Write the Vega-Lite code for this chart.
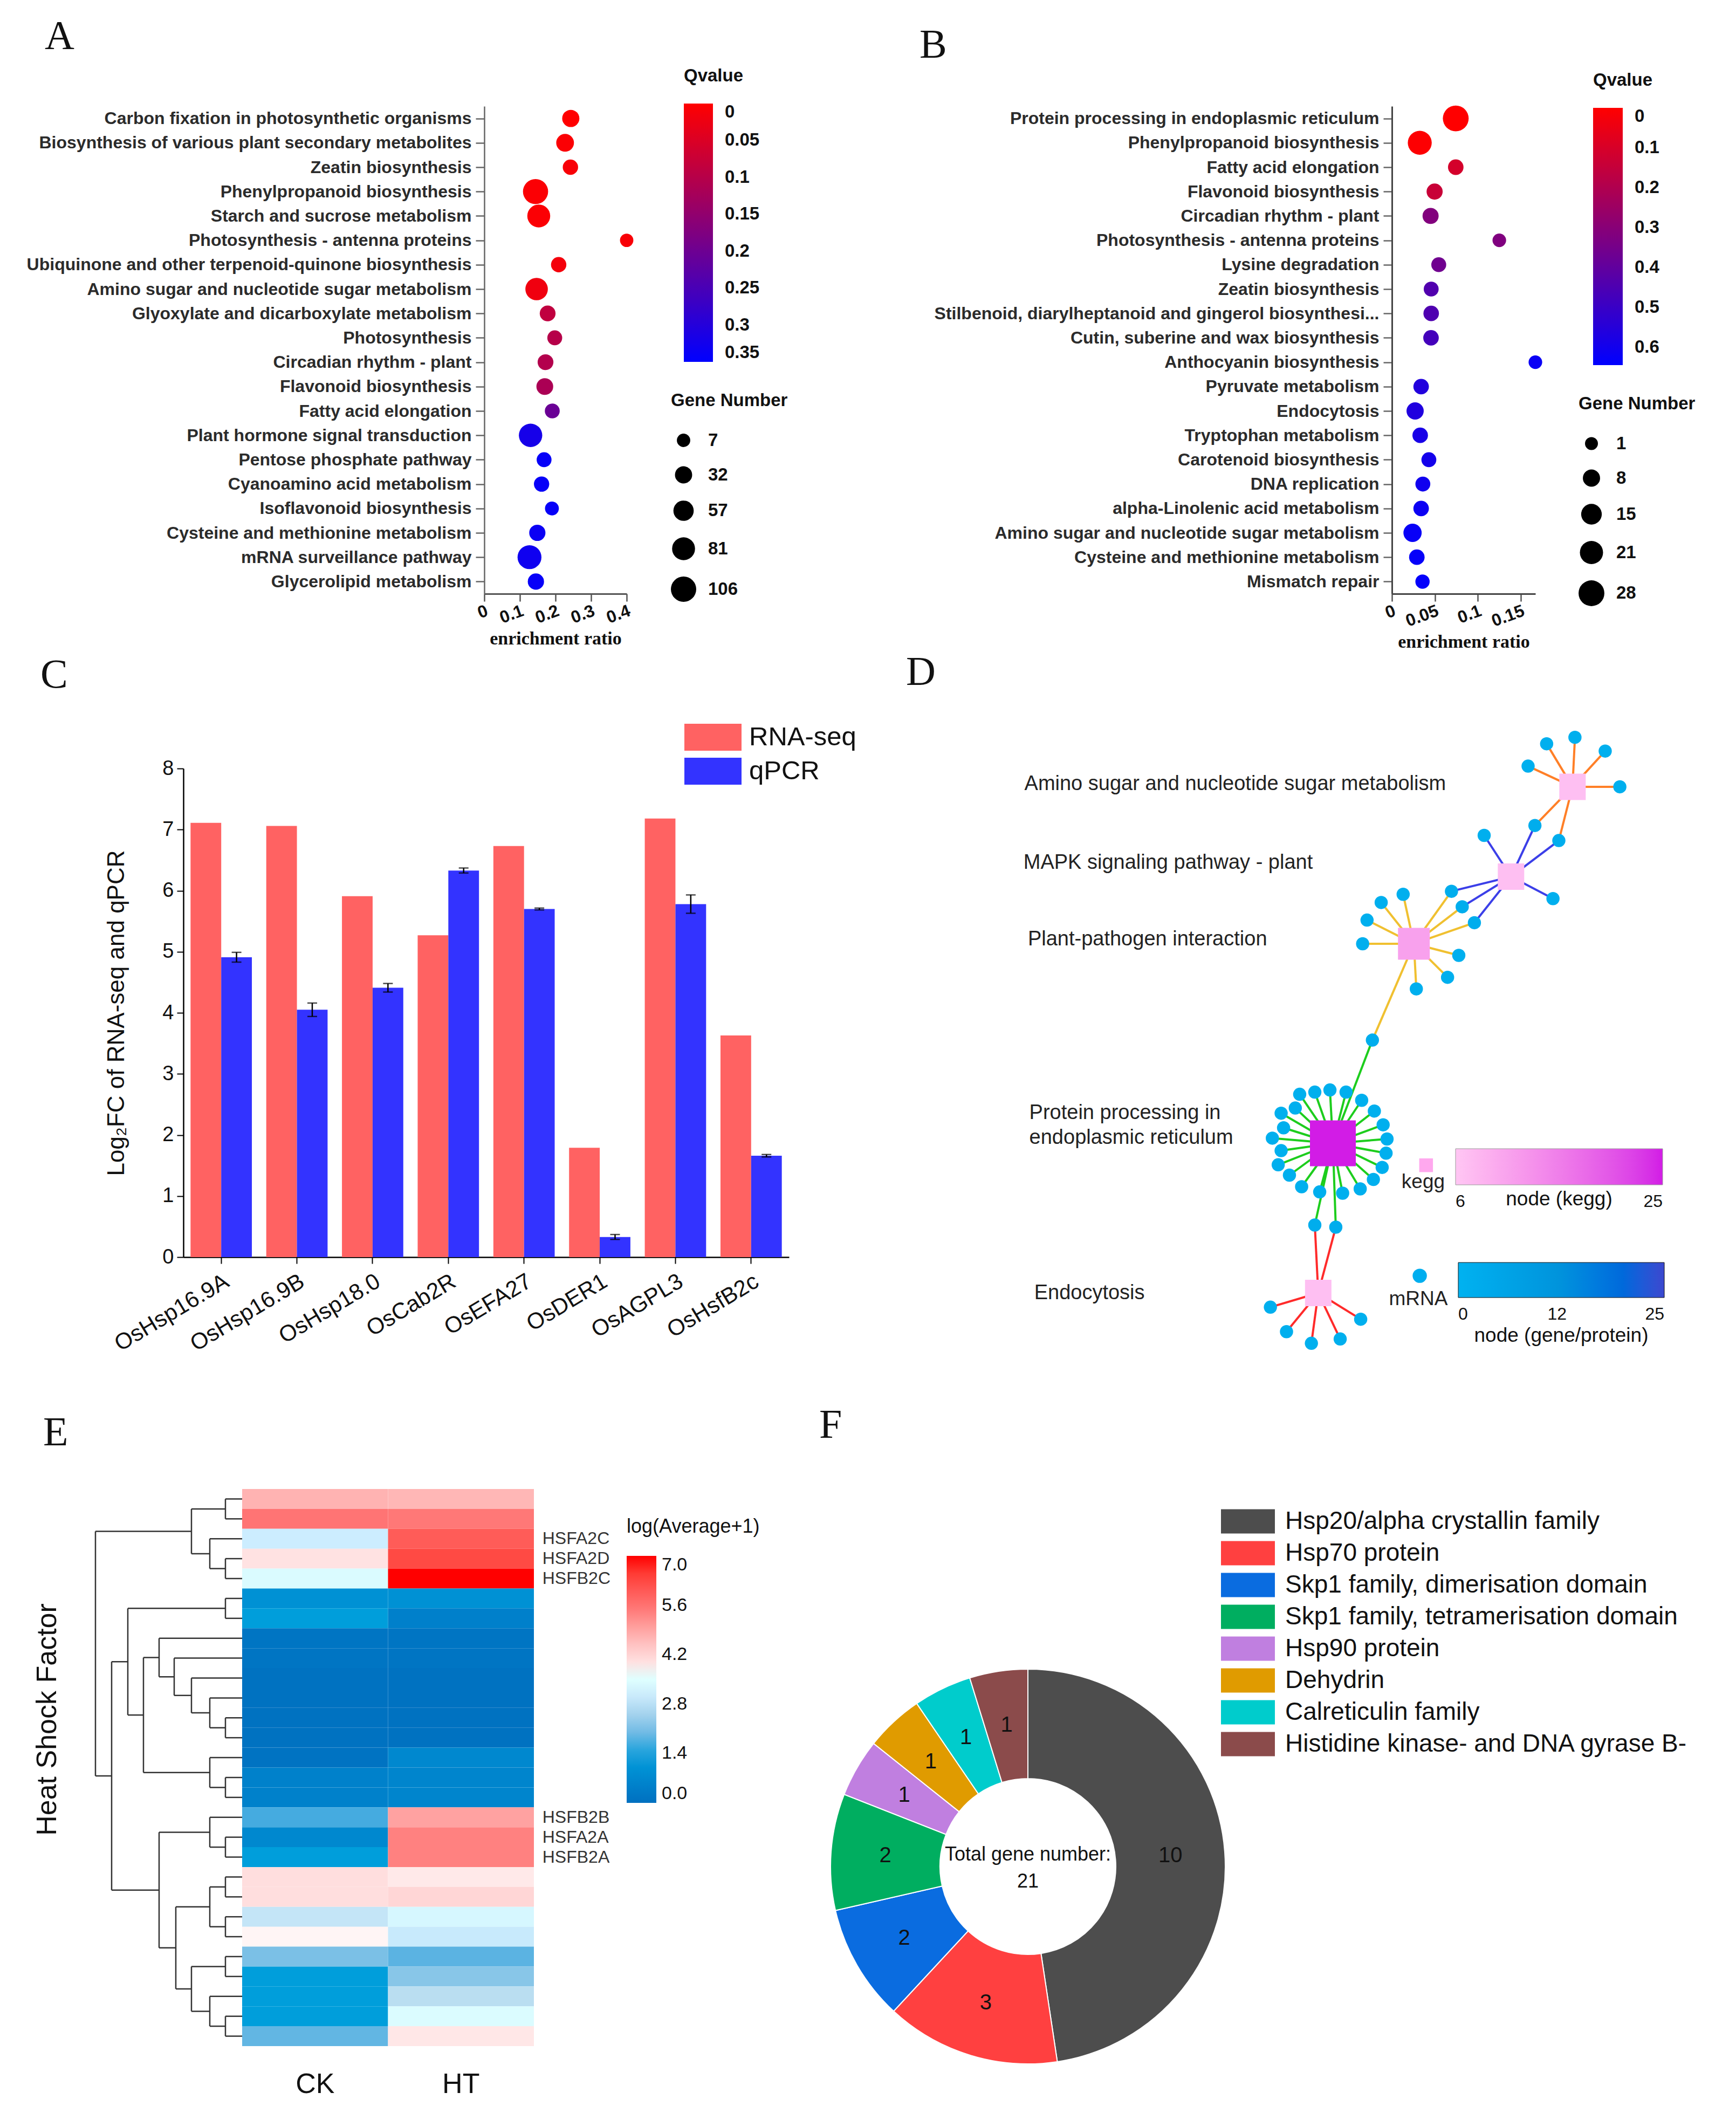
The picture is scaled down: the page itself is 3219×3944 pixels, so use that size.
{
"$schema": "https://vega.github.io/schema/vega-lite/v6.json",
"background": "white",
"padding": {"left": 45, "top": 30, "right": 10, "bottom": 10},
"spacing": 0,
"config": {
  "view": {"stroke": null},
  "font": "Liberation Sans",
  "axis": {"labelFont": "Liberation Sans", "titleFont": "Liberation Sans", "labelColor": "#222", "titleColor": "#222", "grid": false, "labelLimit": 1500, "titleLimit": 2000},
  "legend": {"labelFont": "Liberation Sans", "titleFont": "Liberation Sans", "padding": 0, "labelColor": "#111", "titleColor": "#111", "labelLimit": 1500, "titleLimit": 1500},
  "title": {"font": "Liberation Serif", "fontSize": 76, "fontWeight": "normal", "anchor": "start", "frame": "group", "color": "#111"},
  "text": {"font": "Liberation Sans"}
},
"resolve": {"scale": {"color": "independent", "size": "independent", "fill": "independent", "stroke": "independent", "theta": "independent", "x": "independent", "y": "independent", "xOffset": "independent"}},
"vconcat": [
 {
  "bounds": "flush", "spacing": 0,
  "resolve": {"scale": {"color": "independent", "size": "independent", "x": "independent", "y": "independent"}},
  "hconcat": [
   {"width": 853, "height": 1005, "data": {"values": []}, "mark": "point", "encoding": {}},
   {
    "width": 264, "height": 904,
    "title": {"text": "A", "dx": -815, "offset": 18},
    "data": {"values": [
      {"term":"Carbon fixation in photosynthetic organisms","ratio":0.243,"q":0.0,"n":32},
      {"term":"Biosynthesis of various plant secondary metabolites","ratio":0.227,"q":0.005,"n":36},
      {"term":"Zeatin biosynthesis","ratio":0.242,"q":0.01,"n":19},
      {"term":"Phenylpropanoid biosynthesis","ratio":0.144,"q":0.005,"n":104},
      {"term":"Starch and sucrose metabolism","ratio":0.153,"q":0.005,"n":81},
      {"term":"Photosynthesis - antenna proteins","ratio":0.4,"q":0.01,"n":7},
      {"term":"Ubiquinone and other terpenoid-quinone biosynthesis","ratio":0.209,"q":0.015,"n":19},
      {"term":"Amino sugar and nucleotide sugar metabolism","ratio":0.147,"q":0.02,"n":77},
      {"term":"Glyoxylate and dicarboxylate metabolism","ratio":0.178,"q":0.087,"n":22},
      {"term":"Photosynthesis","ratio":0.198,"q":0.1,"n":16},
      {"term":"Circadian rhythm - plant","ratio":0.172,"q":0.105,"n":22},
      {"term":"Flavonoid biosynthesis","ratio":0.17,"q":0.115,"n":29},
      {"term":"Fatty acid elongation","ratio":0.191,"q":0.205,"n":16},
      {"term":"Plant hormone signal transduction","ratio":0.13,"q":0.32,"n":86},
      {"term":"Pentose phosphate pathway","ratio":0.168,"q":0.34,"n":16},
      {"term":"Cyanoamino acid metabolism","ratio":0.161,"q":0.34,"n":19},
      {"term":"Isoflavonoid biosynthesis","ratio":0.19,"q":0.34,"n":10},
      {"term":"Cysteine and methionine metabolism","ratio":0.149,"q":0.335,"n":25},
      {"term":"mRNA surveillance pathway","ratio":0.127,"q":0.33,"n":91},
      {"term":"Glycerolipid metabolism","ratio":0.145,"q":0.34,"n":25}
    ]},
    "mark": {"type": "circle", "opacity": 1},
    "encoding": {
      "y": {"field": "term", "type": "nominal", "sort": null, "scale": {"type": "point", "padding": 0.5},
            "axis": {"title": null, "labelFontSize": 32, "labelFontWeight": "bold", "labelColor": "#2b2b2b", "tickSize": 16, "tickColor": "#666", "tickWidth": 2.5, "domainColor": "#666", "domainWidth": 2.5, "labelPadding": 8}},
      "x": {"field": "ratio", "type": "quantitative", "scale": {"domain": [0, 0.4], "nice": false, "zero": true},
            "axis": {"title": "enrichment ratio", "titleFont": "Liberation Serif", "titleFontSize": 34, "titleFontWeight": "bold", "titleColor": "#111", "titlePadding": 6, "values": [0, 0.1, 0.2, 0.3, 0.4], "format": "~g", "labelFontSize": 32, "labelFontWeight": "bold", "labelAngle": -20, "labelAlign": "right", "labelBaseline": "top", "labelFlush": false, "labelOverlap": false, "tickSize": 14, "tickColor": "#555", "tickWidth": 2.5, "domainColor": "#555", "domainWidth": 3, "labelColor": "#111"}},
      "color": {"field": "q", "type": "quantitative", "scale": {"domain": [0.35, 0], "range": ["#0000ff", "#ff0000"], "interpolate": "rgb", "nice": false},
            "legend": {"title": "Qvalue", "orient": "none", "legendX": 370, "legendY": -72, "direction": "vertical", "gradientLength": 479, "gradientThickness": 54, "values": [0, 0.05, 0.1, 0.15, 0.2, 0.25, 0.3, 0.35], "format": "~g", "labelFontSize": 33, "labelFontWeight": "bold", "labelBaseline": "middle", "titleFontSize": 33, "titleFontWeight": "bold", "titlePadding": 34, "labelOffset": 22, "labelOverlap": false, "gradientStrokeWidth": 0}},
      "size": {"field": "n", "type": "quantitative", "scale": {"domain": [7, 106], "range": [616, 2206], "zero": false},
            "legend": {"title": "Gene Number", "orient": "none", "legendX": 346, "legendY": 530, "values": [7, 32, 57, 81, 106], "symbolType": "circle", "symbolFillColor": "black", "symbolStrokeColor": "black", "symbolStrokeWidth": 0, "symbolOpacity": 1, "labelFontSize": 33, "labelFontWeight": "bold", "titleFontSize": 33, "titleFontWeight": "bold", "rowPadding": 30, "labelOffset": 22, "titlePadding": 40}}
    }
   },
   {"width": 1419, "height": 10, "data": {"values": []}, "mark": "point", "encoding": {}},
   {
    "width": 266, "height": 904,
    "title": {"text": "B", "dx": -876, "offset": 10},
    "data": {"values": [
      {"term":"Protein processing in endoplasmic reticulum","ratio":0.0743,"q":0.0,"n":28},
      {"term":"Phenylpropanoid biosynthesis","ratio":0.0324,"q":0.005,"n":23},
      {"term":"Fatty acid elongation","ratio":0.0743,"q":0.109,"n":5},
      {"term":"Flavonoid biosynthesis","ratio":0.0497,"q":0.139,"n":6},
      {"term":"Circadian rhythm - plant","ratio":0.045,"q":0.316,"n":6},
      {"term":"Photosynthesis - antenna proteins","ratio":0.125,"q":0.32,"n":2},
      {"term":"Lysine degradation","ratio":0.0545,"q":0.362,"n":4},
      {"term":"Zeatin biosynthesis","ratio":0.0457,"q":0.44,"n":4},
      {"term":"Stilbenoid, diarylheptanoid and gingerol biosynthesi...","ratio":0.0457,"q":0.445,"n":5},
      {"term":"Cutin, suberine and wax biosynthesis","ratio":0.0455,"q":0.473,"n":5},
      {"term":"Anthocyanin biosynthesis","ratio":0.167,"q":0.62,"n":2},
      {"term":"Pyruvate metabolism","ratio":0.034,"q":0.559,"n":5},
      {"term":"Endocytosis","ratio":0.027,"q":0.564,"n":8},
      {"term":"Tryptophan metabolism","ratio":0.0329,"q":0.584,"n":5},
      {"term":"Carotenoid biosynthesis","ratio":0.043,"q":0.594,"n":4},
      {"term":"DNA replication","ratio":0.036,"q":0.605,"n":4},
      {"term":"alpha-Linolenic acid metabolism","ratio":0.034,"q":0.615,"n":5},
      {"term":"Amino sugar and nucleotide sugar metabolism","ratio":0.024,"q":0.625,"n":10},
      {"term":"Cysteine and methionine metabolism","ratio":0.029,"q":0.63,"n":5},
      {"term":"Mismatch repair","ratio":0.0356,"q":0.635,"n":3}
    ]},
    "mark": {"type": "circle", "opacity": 1},
    "encoding": {
      "y": {"field": "term", "type": "nominal", "sort": null, "scale": {"type": "point", "padding": 0.5},
            "axis": {"title": null, "labelFontSize": 32, "labelFontWeight": "bold", "labelColor": "#2b2b2b", "tickSize": 16, "tickColor": "#666", "tickWidth": 2.5, "domainColor": "#444", "domainWidth": 3, "labelPadding": 8}},
      "x": {"field": "ratio", "type": "quantitative", "scale": {"domain": [0, 0.167], "nice": false, "zero": true},
            "axis": {"title": "enrichment ratio", "titleFont": "Liberation Serif", "titleFontSize": 34, "titleFontWeight": "bold", "titleColor": "#111", "titlePadding": 6, "values": [0, 0.05, 0.1, 0.15], "format": "~g", "labelFontSize": 32, "labelFontWeight": "bold", "labelAngle": -20, "labelAlign": "right", "labelBaseline": "top", "labelFlush": false, "labelOverlap": false, "tickSize": 14, "tickColor": "#555", "tickWidth": 2.5, "domainColor": "#444", "domainWidth": 3, "labelColor": "#111"}},
      "color": {"field": "q", "type": "quantitative", "scale": {"domain": [0.645, 0], "range": ["#0000ff", "#ff0000"], "interpolate": "rgb", "nice": false},
            "legend": {"title": "Qvalue", "orient": "none", "legendX": 373, "legendY": -64, "direction": "vertical", "gradientLength": 477, "gradientThickness": 55, "values": [0, 0.1, 0.2, 0.3, 0.4, 0.5, 0.6], "format": "~g", "labelFontSize": 33, "labelFontWeight": "bold", "labelBaseline": "middle", "titleFontSize": 33, "titleFontWeight": "bold", "titlePadding": 34, "labelOffset": 22, "labelOverlap": false, "gradientStrokeWidth": 0}},
      "size": {"field": "n", "type": "quantitative", "scale": {"domain": [1, 28], "range": [573, 2290], "zero": false},
            "legend": {"title": "Gene Number", "orient": "none", "legendX": 346, "legendY": 536, "values": [1, 8, 15, 21, 28], "symbolType": "circle", "symbolFillColor": "black", "symbolStrokeColor": "black", "symbolStrokeWidth": 0, "symbolOpacity": 1, "labelFontSize": 33, "labelFontWeight": "bold", "titleFontSize": 33, "titleFontWeight": "bold", "rowPadding": 30, "labelOffset": 22, "titlePadding": 40}}
    }
   }
  ]
 },
 {
  "bounds": "flush", "spacing": 0,
  "resolve": {"scale": {"color": "independent", "size": "independent", "fill": "independent", "stroke": "independent", "x": "independent", "y": "independent", "xOffset": "independent"}},
  "hconcat": [
   {"width": 295, "height": 1180, "data": {"values": []}, "mark": "point", "encoding": {}},
   {
    "width": 1123, "height": 906,
    "title": {"text": "C", "dx": -265, "offset": 38},
    "data": {"values": [
      {"gene":"OsHsp16.9A","series":"RNA-seq","value":7.11},
      {"gene":"OsHsp16.9A","series":"qPCR","value":4.91,"lo":4.83,"hi":4.99},
      {"gene":"OsHsp16.9B","series":"RNA-seq","value":7.06},
      {"gene":"OsHsp16.9B","series":"qPCR","value":4.05,"lo":3.94,"hi":4.16},
      {"gene":"OsHsp18.0","series":"RNA-seq","value":5.91},
      {"gene":"OsHsp18.0","series":"qPCR","value":4.41,"lo":4.34,"hi":4.48},
      {"gene":"OsCab2R","series":"RNA-seq","value":5.27},
      {"gene":"OsCab2R","series":"qPCR","value":6.33,"lo":6.29,"hi":6.37},
      {"gene":"OsEFA27","series":"RNA-seq","value":6.73},
      {"gene":"OsEFA27","series":"qPCR","value":5.7,"lo":5.685,"hi":5.715},
      {"gene":"OsDER1","series":"RNA-seq","value":1.79},
      {"gene":"OsDER1","series":"qPCR","value":0.33,"lo":0.29,"hi":0.37},
      {"gene":"OsAGPL3","series":"RNA-seq","value":7.18},
      {"gene":"OsAGPL3","series":"qPCR","value":5.78,"lo":5.63,"hi":5.93},
      {"gene":"OsHsfB2c","series":"RNA-seq","value":3.63},
      {"gene":"OsHsfB2c","series":"qPCR","value":1.66,"lo":1.64,"hi":1.68}
    ]},
    "layer": [
     {
      "mark": {"type": "bar"},
      "encoding": {
        "x": {"field": "gene", "type": "nominal", "sort": null, "scale": {"paddingInner": 0.19, "paddingOuter": 0.095},
              "axis": {"title": null, "labelAngle": -31, "labelAlign": "right", "labelBaseline": "top", "labelFontSize": 42, "labelColor": "#111", "tickSize": 12, "tickColor": "black", "tickWidth": 2, "domainColor": "black", "domainWidth": 2.5, "labelPadding": 12}},
        "xOffset": {"field": "series", "type": "nominal", "scale": {"domain": ["RNA-seq", "qPCR"]}},
        "y": {"field": "value", "type": "quantitative", "scale": {"domain": [0, 8], "nice": false},
              "axis": {"title": "Log₂FC of RNA-seq and qPCR", "titleFontSize": 44, "titleFontWeight": "normal", "titleColor": "#111", "titlePadding": 62, "values": [0,1,2,3,4,5,6,7,8], "format": "d", "labelFontSize": 38, "labelColor": "#111", "tickSize": 12, "tickColor": "black", "tickWidth": 2, "domainColor": "black", "domainWidth": 2.5, "labelPadding": 6}},
        "color": {"field": "series", "type": "nominal", "scale": {"domain": ["RNA-seq", "qPCR"], "range": ["#FF6262", "#3333FF"]},
              "legend": {"title": null, "orient": "none", "legendX": 944, "legendY": -96, "symbolType": "M-1.4,-0.66H1.4V0.66H-1.4Z", "symbolSize": 5730, "symbolStrokeWidth": 0, "symbolOpacity": 1, "labelFontSize": 49, "rowPadding": 0, "labelOffset": 29}}
      }
     },
     {
      "transform": [{"filter": {"field": "series", "equal": "qPCR"}}],
      "mark": {"type": "rule", "color": "black", "strokeWidth": 2.5},
      "encoding": {
        "x": {"field": "gene", "type": "nominal", "sort": null},
        "xOffset": {"field": "series", "type": "nominal"},
        "y": {"field": "lo", "type": "quantitative"},
        "y2": {"field": "hi"}
      }
     },
     {
      "transform": [{"filter": {"field": "series", "equal": "qPCR"}}],
      "mark": {"type": "tick", "orient": "horizontal", "color": "black", "thickness": 2.5, "size": 18},
      "encoding": {
        "x": {"field": "gene", "type": "nominal", "sort": null},
        "xOffset": {"field": "series", "type": "nominal"},
        "y": {"field": "lo", "type": "quantitative"}
      }
     },
     {
      "transform": [{"filter": {"field": "series", "equal": "qPCR"}}],
      "mark": {"type": "tick", "orient": "horizontal", "color": "black", "thickness": 2.5, "size": 18},
      "encoding": {
        "x": {"field": "gene", "type": "nominal", "sort": null},
        "xOffset": {"field": "series", "type": "nominal"},
        "y": {"field": "hi", "type": "quantitative"}
      }
     }
    ]
   },
   {"width": 337, "height": 10, "data": {"values": []}, "mark": "point", "encoding": {}},
   {
    "width": 1400, "height": 906,
    "title": {"text": "D", "dx": -120, "offset": 69},
    "layer": [
     {
      "data": {"values": [
        {"x":1233,"y":203,"x2":1180,"y2":103,"path":"amino"},
        {"x":1233,"y":203,"x2":1238,"y2":88,"path":"amino"},
        {"x":1233,"y":203,"x2":1300,"y2":120,"path":"amino"},
        {"x":1233,"y":203,"x2":1142,"y2":155,"path":"amino"},
        {"x":1233,"y":203,"x2":1330,"y2":203,"path":"amino"},
        {"x":1233,"y":203,"x2":1156,"y2":293,"path":"amino"},
        {"x":1233,"y":203,"x2":1205,"y2":328,"path":"amino"},
        {"x":1107,"y":412,"x2":1156,"y2":293,"path":"mapk"},
        {"x":1107,"y":412,"x2":1205,"y2":328,"path":"mapk"},
        {"x":1107,"y":412,"x2":1052,"y2":316,"path":"mapk"},
        {"x":1107,"y":412,"x2":1193,"y2":463,"path":"mapk"},
        {"x":1107,"y":412,"x2":985,"y2":446,"path":"mapk"},
        {"x":1107,"y":412,"x2":1007,"y2":482,"path":"mapk"},
        {"x":1107,"y":412,"x2":1032,"y2":519,"path":"mapk"},
        {"x":908,"y":568,"x2":985,"y2":446,"path":"pp"},
        {"x":908,"y":568,"x2":1007,"y2":482,"path":"pp"},
        {"x":908,"y":568,"x2":1032,"y2":519,"path":"pp"},
        {"x":908,"y":568,"x2":886,"y2":453,"path":"pp"},
        {"x":908,"y":568,"x2":841,"y2":472,"path":"pp"},
        {"x":908,"y":568,"x2":812,"y2":513,"path":"pp"},
        {"x":908,"y":568,"x2":803,"y2":568,"path":"pp"},
        {"x":908,"y":568,"x2":1000,"y2":595,"path":"pp"},
        {"x":908,"y":568,"x2":977,"y2":646,"path":"pp"},
        {"x":908,"y":568,"x2":913,"y2":673,"path":"pp"},
        {"x":908,"y":568,"x2":823,"y2":792,"path":"pp"},
        {"x":742,"y":1032,"x2":823,"y2":792,"path":"protein"},
        {"x":742,"y":1032,"x2":674,"y2":918,"path":"protein"},
        {"x":742,"y":1032,"x2":705,"y2":913,"path":"protein"},
        {"x":742,"y":1032,"x2":736,"y2":908,"path":"protein"},
        {"x":742,"y":1032,"x2":769,"y2":913,"path":"protein"},
        {"x":742,"y":1032,"x2":801,"y2":932,"path":"protein"},
        {"x":742,"y":1032,"x2":827,"y2":957,"path":"protein"},
        {"x":742,"y":1032,"x2":845,"y2":989,"path":"protein"},
        {"x":742,"y":1032,"x2":853,"y2":1022,"path":"protein"},
        {"x":742,"y":1032,"x2":851,"y2":1055,"path":"protein"},
        {"x":742,"y":1032,"x2":843,"y2":1088,"path":"protein"},
        {"x":742,"y":1032,"x2":825,"y2":1116,"path":"protein"},
        {"x":742,"y":1032,"x2":798,"y2":1138,"path":"protein"},
        {"x":742,"y":1032,"x2":762,"y2":1148,"path":"protein"},
        {"x":742,"y":1032,"x2":715,"y2":1145,"path":"protein"},
        {"x":742,"y":1032,"x2":678,"y2":1133,"path":"protein"},
        {"x":742,"y":1032,"x2":653,"y2":1106,"path":"protein"},
        {"x":742,"y":1032,"x2":630,"y2":1082,"path":"protein"},
        {"x":742,"y":1032,"x2":636,"y2":1049,"path":"protein"},
        {"x":742,"y":1032,"x2":618,"y2":1020,"path":"protein"},
        {"x":742,"y":1032,"x2":641,"y2":996,"path":"protein"},
        {"x":742,"y":1032,"x2":636,"y2":962,"path":"protein"},
        {"x":742,"y":1032,"x2":665,"y2":950,"path":"protein"},
        {"x":742,"y":1032,"x2":705,"y2":1222,"path":"protein"},
        {"x":742,"y":1032,"x2":748,"y2":1227,"path":"protein"},
        {"x":712,"y":1380,"x2":705,"y2":1222,"path":"endo"},
        {"x":712,"y":1380,"x2":748,"y2":1227,"path":"endo"},
        {"x":712,"y":1380,"x2":614,"y2":1413,"path":"endo"},
        {"x":712,"y":1380,"x2":647,"y2":1470,"path":"endo"},
        {"x":712,"y":1380,"x2":698,"y2":1497,"path":"endo"},
        {"x":712,"y":1380,"x2":757,"y2":1487,"path":"endo"},
        {"x":712,"y":1380,"x2":799,"y2":1441,"path":"endo"}
      ]},
      "mark": {"type": "rule", "strokeWidth": 4},
      "encoding": {
        "x": {"field": "x", "type": "quantitative", "scale": {"domain": [0, 1547], "nice": false, "zero": false}, "axis": null},
        "y": {"field": "y", "type": "quantitative", "scale": {"domain": [160.5, 1296.6], "nice": false, "zero": false, "reverse": true}, "axis": null},
        "x2": {"field": "x2"},
        "y2": {"field": "y2"},
        "stroke": {"field": "path", "type": "nominal", "scale": {"domain": ["amino", "mapk", "pp", "protein", "endo"], "range": ["#FF7F27", "#3B3FE8", "#F0C030", "#1DCD1D", "#FF2A2A"]}, "legend": null}
      }
     },
     {
      "data": {"values": [
        {"name":"Amino sugar","x":1233,"y":203,"count":7},
        {"name":"MAPK","x":1107,"y":412,"count":7},
        {"name":"Plant-pathogen","x":908,"y":568,"count":11},
        {"name":"Protein processing","x":742,"y":1032,"count":25},
        {"name":"Endocytosis","x":712,"y":1380,"count":7}
      ]},
      "mark": {"type": "square", "opacity": 1},
      "encoding": {
        "x": {"field": "x", "type": "quantitative", "scale": {"domain": [0, 1547], "nice": false, "zero": false}, "axis": null},
        "y": {"field": "y", "type": "quantitative", "scale": {"domain": [160.5, 1296.6], "nice": false, "zero": false, "reverse": true}, "axis": null},
        "size": {"field": "count", "type": "quantitative", "scale": {"domain": [7, 25], "range": [2400, 7225], "zero": false}, "legend": null},
        "color": {"field": "count", "type": "quantitative", "scale": {"domain": [6, 25], "range": ["#FFC6F3", "#D21CE6"], "nice": false},
          "legend": {"title": "node (kegg)", "orient": "none", "legendX": 899, "legendY": 705, "direction": "horizontal", "gradientLength": 384, "gradientThickness": 67, "values": [6, 25], "titleOrient": "bottom", "titleAnchor": "middle", "titlePadding": -38, "titleFontSize": 37, "titleFontWeight": "normal", "labelFontSize": 32, "labelOffset": 16, "labelOverlap": false, "gradientStrokeColor": "#999", "gradientStrokeWidth": 1}}
      }
     },
     {
      "data": {"values": [
        {"x":1180,"y":103,"links":1},{"x":1238,"y":88,"links":1},{"x":1300,"y":120,"links":1},{"x":1142,"y":155,"links":1},{"x":1330,"y":203,"links":1},
        {"x":1156,"y":293,"links":2},{"x":1205,"y":328,"links":2},{"x":1052,"y":316,"links":1},{"x":1193,"y":463,"links":1},
        {"x":985,"y":446,"links":2},{"x":1007,"y":482,"links":2},{"x":1032,"y":519,"links":2},
        {"x":886,"y":453,"links":1},{"x":841,"y":472,"links":1},{"x":812,"y":513,"links":1},{"x":803,"y":568,"links":1},
        {"x":1000,"y":595,"links":1},{"x":977,"y":646,"links":1},{"x":913,"y":673,"links":1},{"x":823,"y":792,"links":2},
        {"x":674,"y":918,"links":1},{"x":705,"y":913,"links":1},{"x":736,"y":908,"links":1},{"x":769,"y":913,"links":1},
        {"x":801,"y":932,"links":1},{"x":827,"y":957,"links":1},{"x":845,"y":989,"links":1},{"x":853,"y":1022,"links":1},
        {"x":851,"y":1055,"links":1},{"x":843,"y":1088,"links":1},{"x":825,"y":1116,"links":1},{"x":798,"y":1138,"links":1},
        {"x":762,"y":1148,"links":1},{"x":715,"y":1145,"links":1},{"x":678,"y":1133,"links":1},{"x":653,"y":1106,"links":1},
        {"x":630,"y":1082,"links":1},{"x":636,"y":1049,"links":1},{"x":618,"y":1020,"links":1},{"x":641,"y":996,"links":1},
        {"x":636,"y":962,"links":1},{"x":665,"y":950,"links":1},
        {"x":705,"y":1222,"links":2},{"x":748,"y":1227,"links":2},
        {"x":614,"y":1413,"links":1},{"x":647,"y":1470,"links":1},{"x":698,"y":1497,"links":1},{"x":757,"y":1487,"links":1},{"x":799,"y":1441,"links":1}
      ]},
      "mark": {"type": "circle", "size": 600, "opacity": 1},
      "encoding": {
        "x": {"field": "x", "type": "quantitative", "scale": {"domain": [0, 1547], "nice": false, "zero": false}, "axis": null},
        "y": {"field": "y", "type": "quantitative", "scale": {"domain": [160.5, 1296.6], "nice": false, "zero": false, "reverse": true}, "axis": null},
        "fill": {"field": "links", "type": "quantitative", "scale": {"domain": [0, 12, 25], "range": ["#00B2F0", "#0094DC", "#3B47CF"], "nice": false},
          "legend": {"title": "node (gene/protein)", "orient": "none", "legendX": 904, "legendY": 916, "direction": "horizontal", "gradientLength": 382, "gradientThickness": 65, "values": [0, 12, 25], "titleOrient": "bottom", "titleAnchor": "middle", "titlePadding": 6, "titleFontSize": 37, "titleFontWeight": "normal", "labelFontSize": 32, "labelOffset": 16, "labelOverlap": false, "gradientStrokeColor": "#111", "gradientStrokeWidth": 1}}
      }
     },
     {
      "data": {"values": [{"x":933,"y":1083,"kind":"kegg"}]},
      "mark": {"type": "square", "size": 650, "color": "#FFA8EE", "opacity": 1},
      "encoding": {
        "x": {"field": "x", "type": "quantitative", "scale": {"domain": [0, 1547], "nice": false, "zero": false}, "axis": null},
        "y": {"field": "y", "type": "quantitative", "scale": {"domain": [160.5, 1296.6], "nice": false, "zero": false, "reverse": true}, "axis": null}
      }
     },
     {
      "data": {"values": [{"x":920,"y":1340,"kind":"mRNA"}]},
      "mark": {"type": "circle", "size": 700, "color": "#00AEEF", "opacity": 1},
      "encoding": {
        "x": {"field": "x", "type": "quantitative", "scale": {"domain": [0, 1547], "nice": false, "zero": false}, "axis": null},
        "y": {"field": "y", "type": "quantitative", "scale": {"domain": [160.5, 1296.6], "nice": false, "zero": false, "reverse": true}, "axis": null}
      }
     },
     {
      "data": {"values": [{"x":927,"y":1122,"label":"kegg"},{"x":917,"y":1395,"label":"mRNA"}]},
      "mark": {"type": "text", "align": "center", "baseline": "middle", "fontSize": 37, "color": "#222"},
      "encoding": {
        "x": {"field": "x", "type": "quantitative", "scale": {"domain": [0, 1547], "nice": false, "zero": false}, "axis": null},
        "y": {"field": "y", "type": "quantitative", "scale": {"domain": [160.5, 1296.6], "nice": false, "zero": false, "reverse": true}, "axis": null},
        "text": {"field": "label"}
      }
     },
     {
      "data": {"values": [
        {"x":110,"y":197,"label":"Amino sugar and nucleotide sugar metabolism"},
        {"x":108,"y":380,"label":"MAPK signaling pathway - plant"},
        {"x":117,"y":558,"label":"Plant-pathogen interaction"},
        {"x":120,"y":962,"label":"Protein processing in"},
        {"x":120,"y":1020,"label":"endoplasmic reticulum"},
        {"x":130,"y":1380,"label":"Endocytosis"}
      ]},
      "mark": {"type": "text", "align": "left", "baseline": "middle", "fontSize": 38, "color": "#222"},
      "encoding": {
        "x": {"field": "x", "type": "quantitative", "scale": {"domain": [0, 1547], "nice": false, "zero": false}, "axis": null},
        "y": {"field": "y", "type": "quantitative", "scale": {"domain": [160.5, 1296.6], "nice": false, "zero": false, "reverse": true}, "axis": null},
        "text": {"field": "label"}
      }
     }
    ]
   }
  ]
 },
 {
  "bounds": "flush", "spacing": 0,
  "resolve": {"scale": {"color": "independent", "theta": "independent", "x": "independent", "y": "independent"}},
  "hconcat": [
   {"width": 132, "height": 10, "data": {"values": []}, "mark": "point", "encoding": {}},
   {
    "width": 272, "height": 1033,
    "title": {"text": "E", "dx": -97, "offset": 65},
    "data": {"values": [
      {"h":31,"y":1,"h2":31,"y2":2},{"h":31,"y":1,"h2":0,"y2":1},{"h":31,"y":2,"h2":0,"y2":2},
      {"h":31,"y":4,"h2":31,"y2":5},{"h":31,"y":4,"h2":0,"y2":4},{"h":31,"y":5,"h2":0,"y2":5},
      {"h":60,"y":3,"h2":60,"y2":4.5},{"h":60,"y":3,"h2":0,"y2":3},{"h":60,"y":4.5,"h2":31,"y2":4.5},
      {"h":94,"y":1.5,"h2":94,"y2":3.75},{"h":94,"y":1.5,"h2":31,"y2":1.5},{"h":94,"y":3.75,"h2":60,"y2":3.75},
      {"h":31,"y":6,"h2":31,"y2":7},{"h":31,"y":6,"h2":0,"y2":6},{"h":31,"y":7,"h2":0,"y2":7},
      {"h":31,"y":12,"h2":31,"y2":13},{"h":31,"y":12,"h2":0,"y2":12},{"h":31,"y":13,"h2":0,"y2":13},
      {"h":60,"y":11,"h2":60,"y2":12.5},{"h":60,"y":11,"h2":0,"y2":11},{"h":60,"y":12.5,"h2":31,"y2":12.5},
      {"h":94,"y":10,"h2":94,"y2":11.75},{"h":94,"y":10,"h2":0,"y2":10},{"h":94,"y":11.75,"h2":60,"y2":11.75},
      {"h":126,"y":9,"h2":126,"y2":10.875},{"h":126,"y":9,"h2":0,"y2":9},{"h":126,"y":10.875,"h2":94,"y2":10.875},
      {"h":154,"y":8,"h2":154,"y2":9.94},{"h":154,"y":8,"h2":0,"y2":8},{"h":154,"y":9.94,"h2":126,"y2":9.94},
      {"h":31,"y":15,"h2":31,"y2":16},{"h":31,"y":15,"h2":0,"y2":15},{"h":31,"y":16,"h2":0,"y2":16},
      {"h":60,"y":14,"h2":60,"y2":15.5},{"h":60,"y":14,"h2":0,"y2":14},{"h":60,"y":15.5,"h2":31,"y2":15.5},
      {"h":183,"y":8.97,"h2":183,"y2":14.75},{"h":183,"y":8.97,"h2":154,"y2":8.97},{"h":183,"y":14.75,"h2":60,"y2":14.75},
      {"h":212,"y":6.5,"h2":212,"y2":11.86},{"h":212,"y":6.5,"h2":31,"y2":6.5},{"h":212,"y":11.86,"h2":183,"y2":11.86},
      {"h":31,"y":18,"h2":31,"y2":19},{"h":31,"y":18,"h2":0,"y2":18},{"h":31,"y":19,"h2":0,"y2":19},
      {"h":60,"y":17,"h2":60,"y2":18.5},{"h":60,"y":17,"h2":0,"y2":17},{"h":60,"y":18.5,"h2":31,"y2":18.5},
      {"h":31,"y":20,"h2":31,"y2":21},{"h":31,"y":20,"h2":0,"y2":20},{"h":31,"y":21,"h2":0,"y2":21},
      {"h":31,"y":22,"h2":31,"y2":23},{"h":31,"y":22,"h2":0,"y2":22},{"h":31,"y":23,"h2":0,"y2":23},
      {"h":60,"y":20.5,"h2":60,"y2":22.5},{"h":60,"y":20.5,"h2":31,"y2":20.5},{"h":60,"y":22.5,"h2":31,"y2":22.5},
      {"h":31,"y":24,"h2":31,"y2":25},{"h":31,"y":24,"h2":0,"y2":24},{"h":31,"y":25,"h2":0,"y2":25},
      {"h":31,"y":27,"h2":31,"y2":28},{"h":31,"y":27,"h2":0,"y2":27},{"h":31,"y":28,"h2":0,"y2":28},
      {"h":60,"y":26,"h2":60,"y2":27.5},{"h":60,"y":26,"h2":0,"y2":26},{"h":60,"y":27.5,"h2":31,"y2":27.5},
      {"h":94,"y":24.5,"h2":94,"y2":26.75},{"h":94,"y":24.5,"h2":31,"y2":24.5},{"h":94,"y":26.75,"h2":60,"y2":26.75},
      {"h":123,"y":21.5,"h2":123,"y2":25.625},{"h":123,"y":21.5,"h2":60,"y2":21.5},{"h":123,"y":25.625,"h2":94,"y2":25.625},
      {"h":154,"y":17.75,"h2":154,"y2":23.56},{"h":154,"y":17.75,"h2":60,"y2":17.75},{"h":154,"y":23.56,"h2":123,"y2":23.56},
      {"h":242,"y":9.18,"h2":242,"y2":20.66},{"h":242,"y":9.18,"h2":212,"y2":9.18},{"h":242,"y":20.66,"h2":154,"y2":20.66},
      {"h":272,"y":2.625,"h2":272,"y2":14.92},{"h":272,"y":2.625,"h2":94,"y2":2.625},{"h":272,"y":14.92,"h2":242,"y2":14.92}
    ]},
    "mark": {"type": "rule", "color": "#333", "strokeWidth": 2.5},
    "encoding": {
      "x": {"field": "h", "type": "quantitative", "scale": {"domain": [0, 272], "reverse": true, "nice": false, "zero": false}, "axis": null},
      "x2": {"field": "h2"},
      "y": {"field": "y", "type": "quantitative", "scale": {"domain": [0.5, 28.5], "reverse": true, "nice": false, "zero": false},
            "axis": {"title": "Heat Shock Factor", "labels": false, "ticks": false, "domain": false, "grid": false, "titlePadding": 63, "titleFontSize": 52, "titleFontWeight": "normal", "titleColor": "#111", "minExtent": 0, "titleY": 427}},
      "y2": {"field": "y2"}
    }
   },
   {
    "width": 541, "height": 1033,
    "layer": [
     {
      "data": {"values": [
        {"row":1,"group":"CK","v":4.7},{"row":1,"group":"HT","v":4.65},
        {"row":2,"group":"CK","v":5.55},{"row":2,"group":"HT","v":5.5},
        {"row":3,"group":"CK","v":3.09},{"row":3,"group":"HT","v":5.98},
        {"row":4,"group":"CK","v":3.97},{"row":4,"group":"HT","v":6.28},
        {"row":5,"group":"CK","v":3.39},{"row":5,"group":"HT","v":7.0},
        {"row":6,"group":"CK","v":0.95},{"row":6,"group":"HT","v":0.95},
        {"row":7,"group":"CK","v":1.35},{"row":7,"group":"HT","v":0.47},
        {"row":8,"group":"CK","v":0.15},{"row":8,"group":"HT","v":0.15},
        {"row":9,"group":"CK","v":0.15},{"row":9,"group":"HT","v":0.15},
        {"row":10,"group":"CK","v":0.05},{"row":10,"group":"HT","v":0.05},
        {"row":11,"group":"CK","v":0.05},{"row":11,"group":"HT","v":0.05},
        {"row":12,"group":"CK","v":0.05},{"row":12,"group":"HT","v":0.05},
        {"row":13,"group":"CK","v":0.05},{"row":13,"group":"HT","v":0.05},
        {"row":14,"group":"CK","v":0.1},{"row":14,"group":"HT","v":0.7},
        {"row":15,"group":"CK","v":0.5},{"row":15,"group":"HT","v":0.6},
        {"row":16,"group":"CK","v":0.5},{"row":16,"group":"HT","v":0.6},
        {"row":17,"group":"CK","v":1.65},{"row":17,"group":"HT","v":4.94},
        {"row":18,"group":"CK","v":0.7},{"row":18,"group":"HT","v":5.38},
        {"row":19,"group":"CK","v":1.35},{"row":19,"group":"HT","v":5.38},
        {"row":20,"group":"CK","v":4.05},{"row":20,"group":"HT","v":3.82},
        {"row":21,"group":"CK","v":4.05},{"row":21,"group":"HT","v":4.2},
        {"row":22,"group":"CK","v":2.91},{"row":22,"group":"HT","v":3.31},
        {"row":23,"group":"CK","v":3.6},{"row":23,"group":"HT","v":3.01},
        {"row":24,"group":"CK","v":2.1},{"row":24,"group":"HT","v":1.81},
        {"row":25,"group":"CK","v":1.35},{"row":25,"group":"HT","v":2.22},
        {"row":26,"group":"CK","v":1.35},{"row":26,"group":"HT","v":2.75},
        {"row":27,"group":"CK","v":1.35},{"row":27,"group":"HT","v":3.42},
        {"row":28,"group":"CK","v":1.87},{"row":28,"group":"HT","v":3.87}
      ]},
      "mark": {"type": "rect"},
      "encoding": {
        "x": {"field": "group", "type": "nominal", "sort": ["CK", "HT"], "scale": {"paddingInner": 0, "paddingOuter": 0},
              "axis": {"title": null, "orient": "bottom", "labelAngle": 0, "labelFontSize": 52, "labelColor": "#111", "ticks": false, "domain": false, "labelPadding": 45}},
        "y": {"field": "row", "type": "ordinal", "scale": {"domain": [1,2,3,4,5,6,7,8,9,10,11,12,13,14,15,16,17,18,19,20,21,22,23,24,25,26,27,28], "paddingInner": 0, "paddingOuter": 0}, "axis": null},
        "color": {"field": "v", "type": "quantitative", "scale": {"domain": [0, 1.4, 2.8, 3.6, 4.2, 5.6, 7.0], "range": ["#0070C0", "#00A0DC", "#BFE0F2", "#FFFFFF", "#FFD6D6", "#FF7070", "#FF0000"]},
              "legend": {"title": "log(Average+1)", "orient": "none", "legendX": 713, "legendY": 53, "direction": "vertical", "gradientLength": 458, "gradientThickness": 55, "values": [0, 1.4, 2.8, 4.2, 5.6, 7.0], "format": ".1f", "titleFontSize": 36, "titleFontWeight": "normal", "labelFontSize": 34, "labelBaseline": "middle", "titlePadding": 35, "labelOffset": 10, "labelOverlap": false, "gradientStrokeWidth": 0}}
      }
     },
     {
      "data": {"values": [
        {"row":3,"label":"HSFA2C"},{"row":4,"label":"HSFA2D"},{"row":5,"label":"HSFB2C"},
        {"row":17,"label":"HSFB2B"},{"row":18,"label":"HSFA2A"},{"row":19,"label":"HSFB2A"}
      ]},
      "mark": {"type": "text", "align": "left", "baseline": "middle", "dx": 151, "fontSize": 32, "color": "#333"},
      "encoding": {
        "x": {"datum": "HT", "type": "nominal"},
        "y": {"field": "row", "type": "ordinal"},
        "text": {"field": "label"}
      }
     }
    ]
   },
   {"width": 550, "height": 10, "data": {"values": []}, "mark": "point", "encoding": {}},
   {
    "bounds": "flush", "spacing": 0,
    "resolve": {"scale": {"color": "independent", "theta": "independent"}},
    "vconcat": [
     {"width": 10, "height": 334, "data": {"values": []}, "mark": "point", "encoding": {}},
     {
      "width": 732, "height": 732,
      "title": {"text": "F", "dx": -21, "offset": 103},
      "layer": [
       {
        "data": {"values": [
          {"family":"Hsp20/alpha crystallin family","count":10,"ord":1},
          {"family":"Hsp70 protein","count":3,"ord":2},
          {"family":"Skp1 family, dimerisation domain","count":2,"ord":3},
          {"family":"Skp1 family, tetramerisation domain","count":2,"ord":4},
          {"family":"Hsp90 protein","count":1,"ord":5},
          {"family":"Dehydrin","count":1,"ord":6},
          {"family":"Calreticulin family","count":1,"ord":7},
          {"family":"Histidine kinase- and DNA gyrase B-","count":1,"ord":8}
        ]},
        "layer": [
         {
          "mark": {"type": "arc", "innerRadius": 163, "outerRadius": 366, "stroke": "white", "strokeWidth": 2},
          "encoding": {
            "theta": {"field": "count", "type": "quantitative", "stack": true},
            "order": {"field": "ord", "type": "quantitative"},
            "color": {"field": "family", "type": "nominal", "sort": null,
              "scale": {"domain": ["Hsp20/alpha crystallin family", "Hsp70 protein", "Skp1 family, dimerisation domain", "Skp1 family, tetramerisation domain", "Hsp90 protein", "Dehydrin", "Calreticulin family", "Histidine kinase- and DNA gyrase B-"],
                        "range": ["#4D4D4D", "#FF4040", "#0A6CE0", "#00AE60", "#C07FE0", "#E09B00", "#00CCCC", "#8B4B4B"]},
              "legend": {"title": null, "orient": "none", "legendX": 738, "legendY": -310, "symbolType": "M-1.4,-0.63H1.4V0.63H-1.4Z", "symbolSize": 5100, "symbolStrokeWidth": 0, "symbolOpacity": 1, "labelFontSize": 46, "rowPadding": 0, "labelOffset": 33}}
          }
         },
         {
          "mark": {"type": "text", "radius": 265, "fontSize": 40, "color": "#111"},
          "encoding": {
            "theta": {"field": "count", "type": "quantitative", "stack": true},
            "order": {"field": "ord", "type": "quantitative"},
            "text": {"field": "count", "type": "quantitative"}
          }
         }
        ]
       },
       {
        "data": {"values": [{"label": "Total gene number:\n21"}]},
        "mark": {"type": "text", "fontSize": 36, "color": "#111", "lineBreak": "\n", "lineHeight": 50, "align": "center", "baseline": "middle", "dy": -22},
        "encoding": {"text": {"field": "label"}}
       }
      ]
     }
    ]
   }
  ]
 }
]
}
